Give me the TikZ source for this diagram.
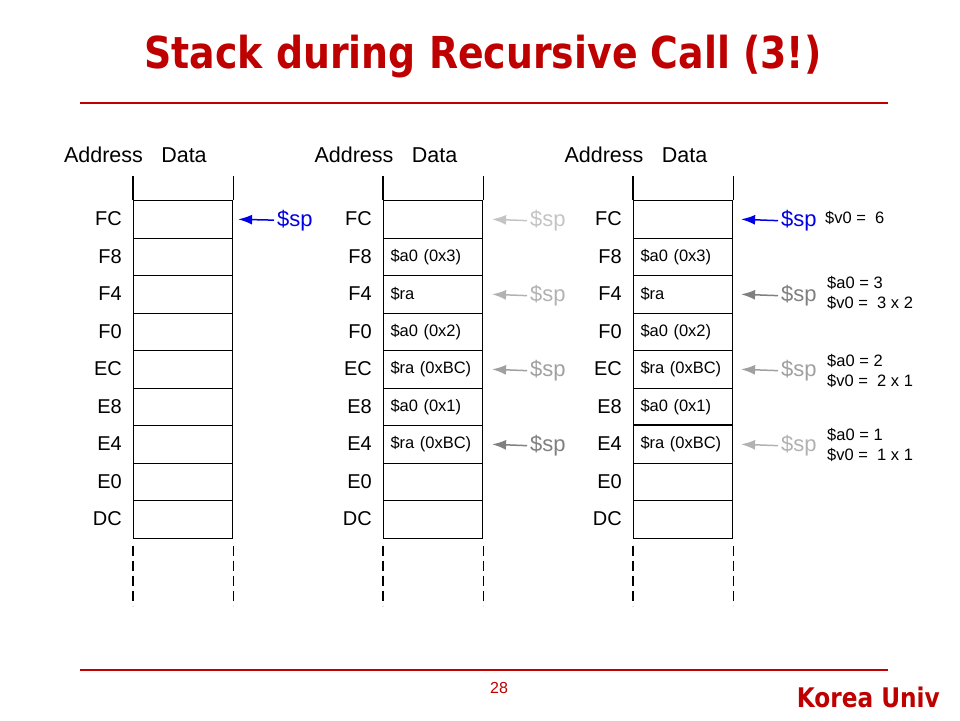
\documentclass[tikz,border=0pt]{standalone}
\usepackage{fontspec}
\setmainfont{Liberation Sans}
\newfontfamily\titlefont[FakeStretch=0.86]{DejaVu Sans}
\usetikzlibrary{arrows.meta}
\definecolor{kured}{RGB}{190,0,0}
\definecolor{spblue}{RGB}{0,0,230}
\definecolor{gA}{RGB}{196,196,196}
\definecolor{gB}{RGB}{178,178,178}
\definecolor{gC}{RGB}{160,160,160}
\definecolor{gD}{RGB}{128,128,128}
\begin{document}
\begin{tikzpicture}[x=1pt,y=-1pt,
  cell/.style={draw, line width=1.1pt, text width=85pt, inner xsep=7pt, inner ysep=0pt,
    minimum height=37.5pt, align=left, anchor=north west, font=\fontsize{16.5}{18}\selectfont},
  addr/.style={anchor=east, inner sep=0pt, font=\fontsize{20}{22}\selectfont},
  head/.style={inner sep=0pt, font=\fontsize{21.5}{24}\selectfont},
  sp/.style={anchor=base west, inner sep=0pt, font=\fontsize{22}{24}\selectfont},
  arr/.style={line width=1.5pt, -{Latex[length=14pt,width=10pt]}},
  note/.style={anchor=west, inner sep=0pt, font=\fontsize{16.5}{20}\selectfont, align=left},
  stackline/.style={line width=1.1pt},
  dashline/.style={line width=1.1pt, dash pattern=on 10pt off 5pt}
]
\useasboundingbox (0,0) rectangle (960,720);
% title and frame lines
\node[text=kured, font=\titlefont\bfseries\fontsize{44}{48}\selectfont, inner sep=0pt] (title) at (483,57) {Stack during Recursive Call (3!)};
\draw[kured, line width=1.6pt] (80,103) coordinate (tl) -- (888,103) coordinate (tr);
\draw[kured, line width=1.6pt] (80,670) coordinate (bl) -- (888,670) coordinate (br);
\node[text=kured, font=\fontsize{16}{18}\selectfont, inner sep=0pt] (page) at (499,688) {28};
\node[text=kured, font=\titlefont\bfseries\fontsize{27}{30}\selectfont, inner sep=0pt, anchor=east] (univ) at (940,697) {Korea Univ};

% stack 1
\node[head] (hA1) at (103.5,155) {Address};
\node[head] (hA2) at (184,155) {Data};
\foreach \lab [count=\i from 0] in {FC,F8,F4,F0,EC,E8,E4,E0,DC} {
  \node[cell] (a\i) at (133,200+37.5*\i) {};
  \node[addr] (aa\i) at (122,218.75+37.5*\i) {\lab};
}
% stacks 2 and 3
\foreach \s/\ox in {b/250,c/500} {
  \node[head] (h\s1) at (104+\ox,155) {Address};
  \node[head] (h\s2) at (184.5+\ox,155) {Data};
  \foreach \lab/\dat [count=\i from 0] in {FC/{},F8/{\$a0 (0x3)},F4/{\$ra},F0/{\$a0 (0x2)},EC/{\$ra (0xBC)},E8/{\$a0 (0x1)},E4/{\$ra (0xBC)},E0/{},DC/{}} {
    \node[cell] (\s\i) at (133+\ox,200+37.5*\i) {\dat};
    \node[addr] (\s a\i) at (122+\ox,218.75+37.5*\i) {\lab};
  }
}
\draw[line width=1.8pt] (c6.north west) -- (c6.north east);
% vertical lines and dashed continuation
\foreach \s in {a,b,c} {
  \draw[stackline] (\s0.north west) -- ++(0,-24);
  \draw[stackline] (\s0.north east) -- ++(0,-24);
  \draw[dashline] ([yshift=-7pt]\s8.south west) -- ++(0,60);
  \draw[dashline] ([yshift=-7pt]\s8.south east) -- ++(0,60);
}

% stack pointers, stack 1
\node[sp, text=spblue] (spa0) at (277,226) {\$sp};
\draw[arr, spblue] ([xshift=-3pt]spa0.west) -- ([xshift=5pt]a0.east);
% stack 2
\foreach \r/\col in {0/gA,2/gB,4/gC,6/gD} {
  \node[sp, text=\col] (spb\r) at (530,226.5+37.5*\r) {\$sp};
  \draw[arr, \col] ([xshift=-3pt]spb\r.west) -- ([xshift=9pt]b\r.east);
}
% stack 3
\node[sp, text=spblue] (spc0) at (781,226.5) {\$sp};
\draw[arr, spblue] ([xshift=-3pt]spc0.west) -- ([xshift=8pt]c0.east);
\foreach \r/\col in {2/gD,4/gC,6/gB} {
  \node[sp, text=\col] (spc\r) at (781,226.5+37.5*\r) {\$sp};
  \draw[arr, \col] ([xshift=-3pt]spc\r.west) -- ([xshift=8pt]c\r.east);
}
% notes
\node[note] (n0) at (825,218) {\$v0 =\ \ 6};
\node[note] (n1) at (827,293) {\$a0 = 3\\\$v0 =\ \ 3 x 2};
\node[note] (n2) at (827,371) {\$a0 = 2\\\$v0 =\ \ 2 x 1};
\node[note] (n3) at (827,445) {\$a0 = 1\\\$v0 =\ \ 1 x 1};
\end{tikzpicture}
\end{document}
